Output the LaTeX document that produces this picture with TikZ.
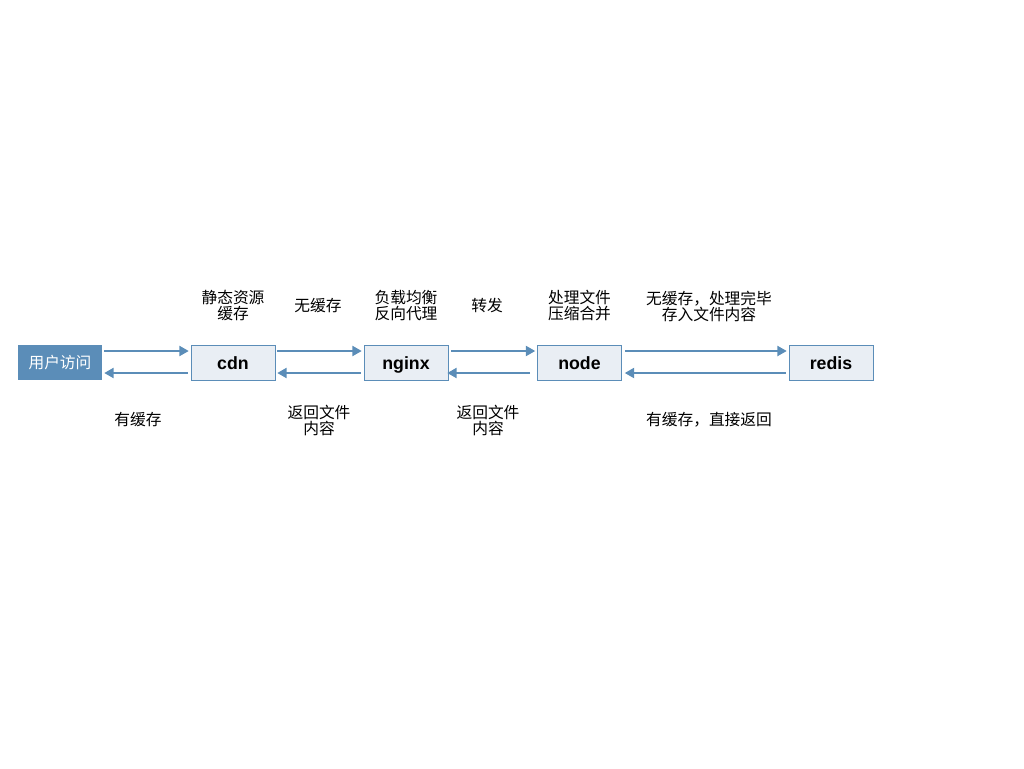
\documentclass[tikz,border=0pt]{standalone}
\usepackage{fontspec}
\setmainfont{Liberation Sans}
\newfontfamily\cjk{Noto Sans CJK SC}
\usetikzlibrary{arrows.meta,calc}
\definecolor{steel}{HTML}{5B8DB8}
\definecolor{pale}{HTML}{E9EEF4}
\begin{document}
\begin{tikzpicture}[x=0.75pt, y=-0.75pt,
    box/.style={draw=steel, fill=pale, minimum width=63pt, minimum height=26.25pt,
        inner sep=0pt, text height=9.8pt, text depth=0pt,
        font=\fontsize{13.3}{15}\selectfont\bfseries},
    userbox/.style={fill=steel, text=white, minimum width=63pt, minimum height=26.25pt,
        inner sep=0pt, font=\cjk\fontsize{11.8}{12}\selectfont},
    note/.style={align=center, inner sep=0pt, font=\cjk\fontsize{11.8}{12}\selectfont},
    flow/.style={draw=steel, line width=1.5pt, -{Triangle[length=7pt, width=7.5pt]}}]
    \useasboundingbox (0,0) rectangle (1024,768);
    % Boxes
    \node[userbox] (user) at (60,362.5) {用户访问};
    \node[box] (cdn) at (233,362.5) {cdn};
    \node[box] (nginx) at (406,362.5) {nginx};
    \node[box] (node) at (579.5,362.5) {node};
    \node[box] (redis) at (831,362.5) {redis};
    % Forward arrows
    \draw[flow] ($(user.east)+(2,-11.5)$) -- ($(cdn.west)+(-2,-11.5)$);
    \draw[flow] ($(cdn.east)+(2,-11.5)$) -- ($(nginx.west)+(-2,-11.5)$);
    \draw[flow] ($(nginx.east)+(3,-11.5)$) -- ($(node.west)+(-2,-11.5)$);
    \draw[flow] ($(node.east)+(3,-11.5)$) -- ($(redis.west)+(-2,-11.5)$);
    % Return arrows
    \draw[flow] ($(cdn.west)+(-3,10.5)$) -- ($(user.east)+(2,10.5)$);
    \draw[flow] ($(nginx.west)+(-3,10.5)$) -- ($(cdn.east)+(2,10.5)$);
    \draw[flow] ($(node.west)+(-7,10.5)$) -- ($(nginx.east)+(-1,10.5)$);
    \draw[flow] ($(redis.west)+(-3,10.5)$) -- ($(node.east)+(3,10.5)$);
    % Labels above
    \node[note] (l1) at (233,306) {静态资源\\缓存};
    \node[note] (l2) at (318,306) {无缓存};
    \node[note] (l3) at (406,306) {负载均衡\\反向代理};
    \node[note] (l4) at (487,306) {转发};
    \node[note] (l5) at (579.5,306) {处理文件\\压缩合并};
    \node[note] (l6) at (709,306) {无缓存，处理完毕\\存入文件内容};
    % Labels below
    \node[note] (b1) at (138,420) {有缓存};
    \node[note] (b2) at (319,420) {返回文件\\内容};
    \node[note] (b3) at (488,420) {返回文件\\内容};
    \node[note] (b4) at (709,420) {有缓存，直接返回};
\end{tikzpicture}
\end{document}
